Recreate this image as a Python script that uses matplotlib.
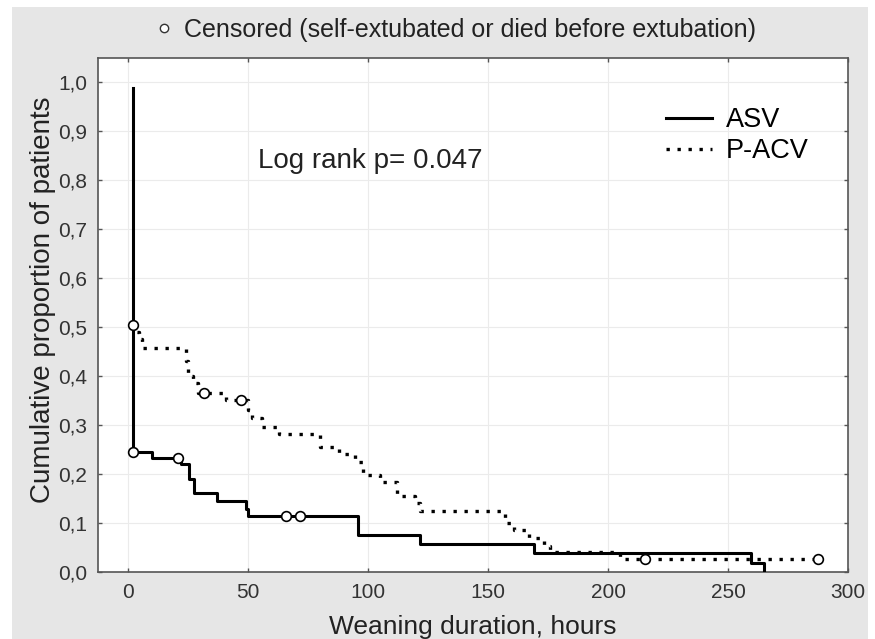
import matplotlib
matplotlib.use("Agg")
import matplotlib.pyplot as plt
from matplotlib.lines import Line2D
from matplotlib.patches import Rectangle
from matplotlib.ticker import FuncFormatter

plt.rcParams['font.family'] = ['Liberation Sans', 'DejaVu Sans']

# ASV curve (solid): step times (hours) and cumulative proportion
asv_t = [2, 2, 10, 22, 25.5, 27.5, 37, 49, 50, 96, 121.7, 169, 259.6, 265]
asv_s = [0.988, 0.245, 0.233, 0.220, 0.19, 0.161, 0.145, 0.128, 0.114, 0.076, 0.057, 0.039, 0.018, 0.0]
asv_cens_t = [2, 20.8, 66, 71.7]
asv_cens_s = [0.245, 0.233, 0.114, 0.114]

# P-ACV curve (dotted)
pacv_t = [2, 3, 4.5, 6, 24, 25, 27, 29, 41, 50, 51.6, 56, 63, 80, 88, 94.6, 98, 105,
          112, 119.6, 121.7, 157, 161, 167, 173.5, 176, 205, 288]
pacv_s = [0.505, 0.49, 0.475, 0.457, 0.43, 0.40, 0.385, 0.365, 0.351, 0.33, 0.314, 0.296,
          0.281, 0.255, 0.24, 0.224, 0.198, 0.184, 0.155, 0.14, 0.124, 0.1, 0.086, 0.069,
          0.053, 0.041, 0.027, 0.027]
pacv_cens_t = [2, 31.7, 47, 215.4, 287.5]
pacv_cens_s = [0.505, 0.365, 0.351, 0.027, 0.027]

xticks = [0, 50, 100, 150, 200, 250, 300]
yticks = [0.0, 0.1, 0.2, 0.3, 0.4, 0.5, 0.6, 0.7, 0.8, 0.9, 1.0]

fig = plt.figure(figsize=(8.75, 6.39), dpi=100)
fig.patch.set_facecolor('white')
fig.add_artist(Rectangle((12 / 875, 0), 856 / 875, 1 - 7 / 639, transform=fig.transFigure,
                         facecolor='#e6e6e6', edgecolor='none', zorder=-10))
ax = fig.add_axes([98 / 875, 1 - 572 / 639, 750 / 875, 514 / 639])
ax.set_facecolor('white')

ax.step(asv_t, asv_s, where='post', color='black', lw=2.2, label='ASV', zorder=3)
ax.step(pacv_t, pacv_s, where='post', color='black', lw=2.4, ls=(0, (1, 2.3)),
        label='P-ACV', zorder=3)
ax.plot(asv_cens_t, asv_cens_s, 'o', ms=7, mfc='white', mec='black', mew=1.2, zorder=4)
ax.plot(pacv_cens_t, pacv_cens_s, 'o', ms=7, mfc='white', mec='black', mew=1.2, zorder=4)

ax.set_xlim(-12.5, 300)
ax.set_ylim(0, 1.049)
ax.set_xticks(xticks)
ax.set_yticks(yticks)
ax.yaxis.set_major_formatter(FuncFormatter(lambda v, p: f"{v:.1f}".replace('.', ',')))
ax.grid(True, color='#ebebeb', lw=0.8)
ax.set_axisbelow(True)
ax.tick_params(direction='in', length=3, width=1, color='#555555',
               top=True, right=True, labelsize=15, labelcolor='#333333', pad=8)
for sp in ax.spines.values():
    sp.set_color('#555555')
    sp.set_linewidth(1.2)

ax.set_xlabel('Weaning duration, hours', fontsize=19, color='#222222', labelpad=9)
ax.set_ylabel('Cumulative proportion of patients', fontsize=20, color='#222222',
              labelpad=1.5, y=0.53)

ax.text(54, 0.838, 'Log rank p= 0.047', fontsize=20, color='#222222', va='center')

ax.legend(loc='upper right', bbox_to_anchor=(0.98, 0.952), frameon=False, fontsize=19.5,
          handlelength=1.7, labelspacing=0.2, handletextpad=0.5)

fig.legend(handles=[Line2D([], [], marker='o', ls='none', ms=6, mfc='white', mec='#333333')],
           labels=['Censored (self-extubated or died before extubation)'],
           loc='center', bbox_to_anchor=(0.519, 1 - 30 / 639), frameon=False, fontsize=18,
           handlelength=1.0, handletextpad=0.3, labelcolor='#222222')

fig.savefig('out.png', dpi=100)
